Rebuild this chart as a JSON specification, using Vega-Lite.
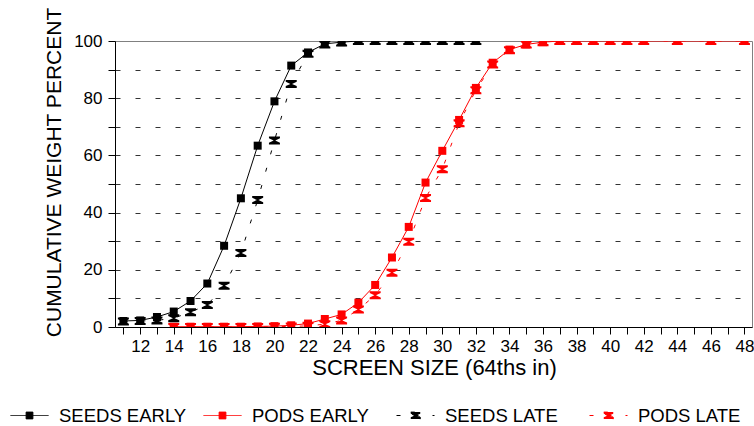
{
  "$schema": "https://vega.github.io/schema/vega-lite/v6.json",
  "autosize": {"type": "none"},
  "width": 637,
  "height": 286,
  "padding": {"left": 115, "top": 41, "right": 2, "bottom": 99},
  "background": "white",
  "view": {"stroke": "#808080", "strokeWidth": 1},
  "config": {"font": "Liberation Sans"},
  "datasets": {
    "d": [
      {"s": "SEEDS EARLY", "x": 11, "v": 2.1}, {"s": "SEEDS EARLY", "x": 12, "v": 2.3}, {"s": "SEEDS EARLY", "x": 13, "v": 3.5}, {"s": "SEEDS EARLY", "x": 14, "v": 5.4}, {"s": "SEEDS EARLY", "x": 15, "v": 9.1}, {"s": "SEEDS EARLY", "x": 16, "v": 15.2}, {"s": "SEEDS EARLY", "x": 17, "v": 28.4}, {"s": "SEEDS EARLY", "x": 18, "v": 45}, {"s": "SEEDS EARLY", "x": 19, "v": 63.4}, {"s": "SEEDS EARLY", "x": 20, "v": 78.9}, {"s": "SEEDS EARLY", "x": 21, "v": 91.4}, {"s": "SEEDS EARLY", "x": 22, "v": 96}, {"s": "SEEDS EARLY", "x": 23, "v": 99}, {"s": "SEEDS EARLY", "x": 24, "v": 99.6}, {"s": "SEEDS EARLY", "x": 25, "v": 100}, {"s": "SEEDS EARLY", "x": 26, "v": 100}, {"s": "SEEDS EARLY", "x": 27, "v": 100}, {"s": "SEEDS EARLY", "x": 28, "v": 100}, {"s": "SEEDS EARLY", "x": 29, "v": 100}, {"s": "SEEDS EARLY", "x": 30, "v": 100}, {"s": "SEEDS EARLY", "x": 31, "v": 100}, {"s": "SEEDS EARLY", "x": 32, "v": 100},
      {"s": "PODS EARLY", "x": 14, "v": 0.1}, {"s": "PODS EARLY", "x": 15, "v": 0.1}, {"s": "PODS EARLY", "x": 16, "v": 0.1}, {"s": "PODS EARLY", "x": 17, "v": 0.1}, {"s": "PODS EARLY", "x": 18, "v": 0.1}, {"s": "PODS EARLY", "x": 19, "v": 0.2}, {"s": "PODS EARLY", "x": 20, "v": 0.3}, {"s": "PODS EARLY", "x": 21, "v": 0.6}, {"s": "PODS EARLY", "x": 22, "v": 1.2}, {"s": "PODS EARLY", "x": 23, "v": 2.8}, {"s": "PODS EARLY", "x": 24, "v": 4.4}, {"s": "PODS EARLY", "x": 25, "v": 8.5}, {"s": "PODS EARLY", "x": 26, "v": 14.7}, {"s": "PODS EARLY", "x": 27, "v": 24.3}, {"s": "PODS EARLY", "x": 28, "v": 35}, {"s": "PODS EARLY", "x": 29, "v": 50.5}, {"s": "PODS EARLY", "x": 30, "v": 61.6}, {"s": "PODS EARLY", "x": 31, "v": 72.4}, {"s": "PODS EARLY", "x": 32, "v": 83.6}, {"s": "PODS EARLY", "x": 33, "v": 92.4}, {"s": "PODS EARLY", "x": 34, "v": 97}, {"s": "PODS EARLY", "x": 35, "v": 98.8}, {"s": "PODS EARLY", "x": 36, "v": 99.6}, {"s": "PODS EARLY", "x": 37, "v": 100}, {"s": "PODS EARLY", "x": 38, "v": 100}, {"s": "PODS EARLY", "x": 39, "v": 100}, {"s": "PODS EARLY", "x": 40, "v": 100}, {"s": "PODS EARLY", "x": 41, "v": 100}, {"s": "PODS EARLY", "x": 42, "v": 100}, {"s": "PODS EARLY", "x": 44, "v": 100}, {"s": "PODS EARLY", "x": 46, "v": 100}, {"s": "PODS EARLY", "x": 48, "v": 100},
      {"s": "SEEDS LATE", "x": 11, "v": 1.9}, {"s": "SEEDS LATE", "x": 12, "v": 2.1}, {"s": "SEEDS LATE", "x": 13, "v": 2.3}, {"s": "SEEDS LATE", "x": 14, "v": 3.1}, {"s": "SEEDS LATE", "x": 15, "v": 5.2}, {"s": "SEEDS LATE", "x": 16, "v": 7.7}, {"s": "SEEDS LATE", "x": 17, "v": 14.4}, {"s": "SEEDS LATE", "x": 18, "v": 25.9}, {"s": "SEEDS LATE", "x": 19, "v": 44.4}, {"s": "SEEDS LATE", "x": 20, "v": 65.2}, {"s": "SEEDS LATE", "x": 21, "v": 85}, {"s": "SEEDS LATE", "x": 22, "v": 95.5}, {"s": "SEEDS LATE", "x": 23, "v": 98.8}, {"s": "SEEDS LATE", "x": 24, "v": 99.5}, {"s": "SEEDS LATE", "x": 25, "v": 100}, {"s": "SEEDS LATE", "x": 26, "v": 100}, {"s": "SEEDS LATE", "x": 27, "v": 100}, {"s": "SEEDS LATE", "x": 28, "v": 100}, {"s": "SEEDS LATE", "x": 29, "v": 100}, {"s": "SEEDS LATE", "x": 30, "v": 100}, {"s": "SEEDS LATE", "x": 31, "v": 100}, {"s": "SEEDS LATE", "x": 32, "v": 100},
      {"s": "PODS LATE", "x": 14, "v": 0}, {"s": "PODS LATE", "x": 15, "v": 0}, {"s": "PODS LATE", "x": 16, "v": 0}, {"s": "PODS LATE", "x": 17, "v": 0}, {"s": "PODS LATE", "x": 18, "v": 0}, {"s": "PODS LATE", "x": 19, "v": 0}, {"s": "PODS LATE", "x": 20, "v": 0.1}, {"s": "PODS LATE", "x": 21, "v": 0.2}, {"s": "PODS LATE", "x": 22, "v": 0.4}, {"s": "PODS LATE", "x": 23, "v": 1}, {"s": "PODS LATE", "x": 24, "v": 2.3}, {"s": "PODS LATE", "x": 25, "v": 6.1}, {"s": "PODS LATE", "x": 26, "v": 11.1}, {"s": "PODS LATE", "x": 27, "v": 19}, {"s": "PODS LATE", "x": 28, "v": 29.8}, {"s": "PODS LATE", "x": 29, "v": 45.1}, {"s": "PODS LATE", "x": 30, "v": 55.2}, {"s": "PODS LATE", "x": 31, "v": 71.2}, {"s": "PODS LATE", "x": 32, "v": 82.8}, {"s": "PODS LATE", "x": 33, "v": 91.8}, {"s": "PODS LATE", "x": 34, "v": 96.8}, {"s": "PODS LATE", "x": 35, "v": 98.8}, {"s": "PODS LATE", "x": 36, "v": 99.6}, {"s": "PODS LATE", "x": 37, "v": 100}, {"s": "PODS LATE", "x": 38, "v": 100}, {"s": "PODS LATE", "x": 39, "v": 100}, {"s": "PODS LATE", "x": 40, "v": 100}, {"s": "PODS LATE", "x": 41, "v": 100}, {"s": "PODS LATE", "x": 42, "v": 100}, {"s": "PODS LATE", "x": 44, "v": 100}, {"s": "PODS LATE", "x": 46, "v": 100}, {"s": "PODS LATE", "x": 48, "v": 100}
    ]
  },
  "data": {"name": "d"},
  "encoding": {
    "x": {
      "field": "x", "type": "quantitative",
      "scale": {"domain": [10.5, 48.45], "nice": false, "zero": false},
      "axis": {
        "title": "SCREEN SIZE (64ths in)",
        "values": [11,12,13,14,15,16,17,18,19,20,21,22,23,24,25,26,27,28,29,30,31,32,33,34,35,36,37,38,39,40,41,42,43,44,45,46,47,48],
        "labelExpr": "datum.value % 2 == 0 ? datum.label : ''",
        "grid": false,
        "domainColor": "#000000", "tickColor": "#000000",
        "tickSize": 7, "labelPadding": 4,
        "labelFontSize": 17, "labelColor": "#000000", "labelFont": "Liberation Sans",
        "labelOverlap": false, "labelBound": false, "labelFlush": false,
        "titleFontSize": 22, "titleFontWeight": "normal", "titleColor": "#000000", "titleFont": "Liberation Sans",
        "titleX": 319, "titleY": 47, "titleBaseline": "alphabetic", "titleAnchor": "middle", "titleAlign": "center"
      }
    },
    "y": {
      "field": "v", "type": "quantitative",
      "scale": {"domain": [0, 100], "nice": false},
      "axis": {
        "title": "CUMULATIVE WEIGHT PERCENT",
        "values": [0,10,20,30,40,50,60,70,80,90,100],
        "labelExpr": "datum.value % 20 == 0 ? datum.label : ''",
        "grid": true, "gridDash": [5, 15], "gridColor": "#333333", "gridWidth": 1,
        "gridOpacity": {"condition": {"test": "datum.value == 0 || datum.value == 100", "value": 0}, "value": 1},
        "domainColor": "#000000", "tickColor": "#000000",
        "tickSize": 7, "labelPadding": 6,
        "labelFontSize": 17, "labelColor": "#000000", "labelFont": "Liberation Sans",
        "labelOverlap": false, "labelBound": false, "labelFlush": false,
        "titleFontSize": 21, "titleFontWeight": "normal", "titleColor": "#000000", "titleFont": "Liberation Sans",
        "titleAngle": -90, "titleX": -61, "titleY": 131, "titleBaseline": "middle", "titleAlign": "center"
      }
    },
    "color": {
      "field": "s", "type": "nominal",
      "scale": {"domain": ["SEEDS EARLY", "PODS EARLY", "SEEDS LATE", "PODS LATE"], "range": ["#000000", "#ff0000", "#000000", "#ff0000"]},
      "legend": {
        "title": null, "orient": "none", "direction": "horizontal", "columns": 4,
        "legendX": -105, "legendY": 355, "padding": 0,
        "gridAlign": "all", "columnPadding": 14, "rowPadding": 0,
        "symbolSize": 1444, "symbolStrokeWidth": 1, "labelOffset": 10,
        "labelFontSize": 18.5, "labelFont": "Liberation Sans", "labelColor": "#000000", "labelLimit": 0,
        "encode": {
          "symbols": {
            "update": {
              "shape": {"signal": "indexof(datum.value,'LATE') >= 0 ? 'M-1,0H1M-0.25,-0.18H0.25V-0.09L0.04,0L0.25,0.09V0.18H-0.25V0.09L-0.04,0L-0.25,-0.09Z' : 'M-1,0H1M-0.18,-0.18H0.18V0.18H-0.18Z'"},
              "fill": {"signal": "indexof(datum.value,'PODS') >= 0 ? '#ff0000' : '#000000'"},
              "stroke": {"signal": "indexof(datum.value,'PODS') >= 0 ? '#ff0000' : '#000000'"},
              "strokeDash": {"signal": "indexof(datum.value,'LATE') >= 0 ? [4, 14] : [1, 0]"},
              "strokeWidth": {"value": 1},
              "opacity": {"value": 1},
              "fillOpacity": {"value": 1},
              "size": {"value": 1444}
            }
          }
        }
      }
    }
  },
  "layer": [
    {
      "transform": [{"filter": "indexof(datum.s, 'EARLY') >= 0"}],
      "mark": {"type": "line", "strokeWidth": 1, "clip": true}
    },
    {
      "transform": [{"filter": "indexof(datum.s, 'LATE') >= 0"}],
      "mark": {"type": "line", "strokeWidth": 1, "strokeDash": [4, 14], "clip": true}
    },
    {
      "transform": [{"filter": "indexof(datum.s, 'EARLY') >= 0"}],
      "mark": {"type": "point", "filled": true, "opacity": 1, "size": 64, "shape": "square", "clip": true}
    },
    {
      "transform": [{"filter": "indexof(datum.s, 'LATE') >= 0"}],
      "mark": {"type": "point", "filled": true, "opacity": 1, "size": 64, "shape": "M-1.375,-1H1.375V-0.55L0.2,0L1.375,0.55V1H-1.375V0.55L-0.2,0L-1.375,-0.55Z", "clip": true}
    }
  ]
}
